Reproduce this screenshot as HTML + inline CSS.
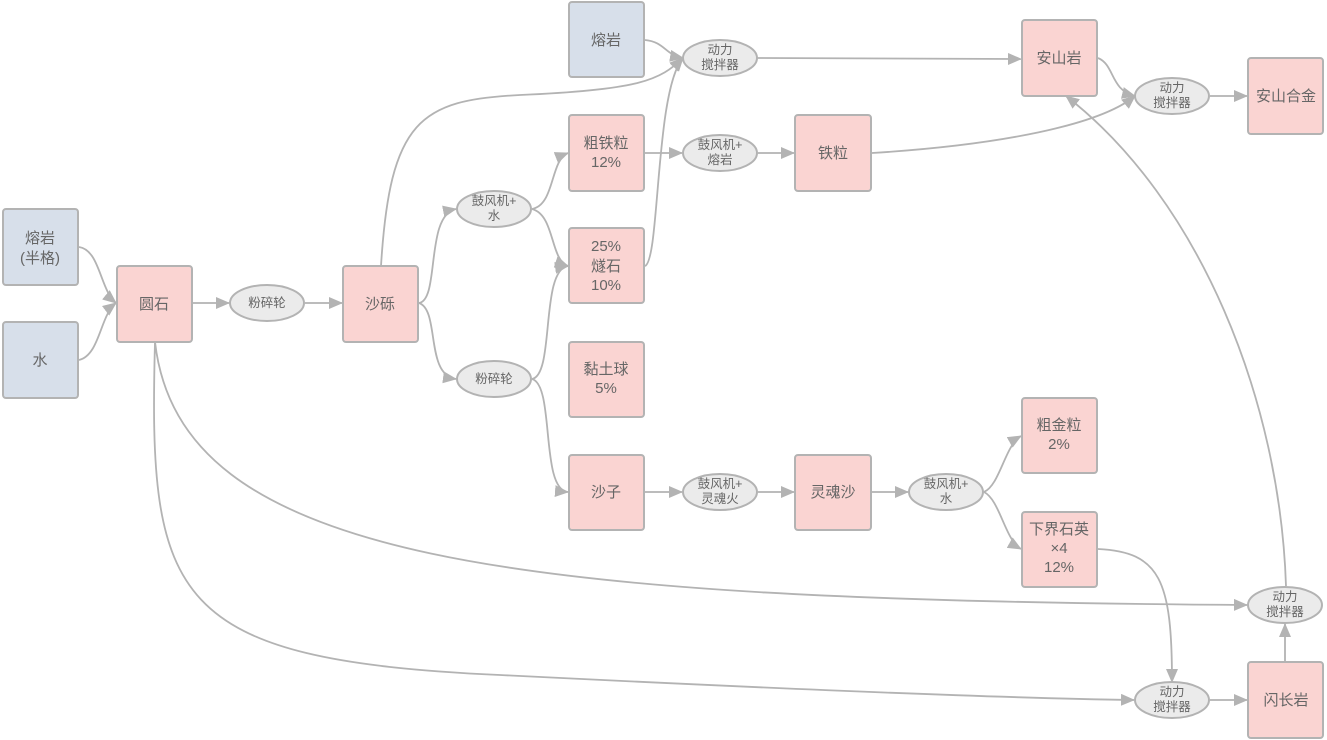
<!DOCTYPE html>
<html><head><meta charset="utf-8"><style>
html,body{margin:0;padding:0;background:#fff;}
svg{display:block;}
text{font-family:"Liberation Sans","Noto Sans CJK SC",sans-serif;fill:#666;text-anchor:middle;}
.b{font-size:15px;}
.e{font-size:12.5px;}
.bx{stroke:#b3b3b3;stroke-width:2;}
.p{fill:#fad4d2;}
.u{fill:#d7dfea;}
.el{fill:#ebebeb;stroke:#b3b3b3;stroke-width:2;}
.l{fill:none;stroke:#b3b3b3;stroke-width:1.8;marker-end:url(#a);}
</style></head><body>
<svg width="1327" height="740" viewBox="0 0 1327 740">
<defs><marker id="a" markerWidth="14" markerHeight="14" refX="13" refY="6" orient="auto" markerUnits="userSpaceOnUse"><path d="M0,0 L14,6 L0,12 z" fill="#b3b3b3"/></marker></defs>

<path class="l" d="M79,247 C100,250 100,290 116,303"/>
<path class="l" d="M79,360 C100,355 100,315 116,303"/>
<path class="l" d="M193,303 L229,303"/>
<path class="l" d="M305,303 L342,303"/>
<path class="l" d="M419,303 C440,300 425,215 456,209"/>
<path class="l" d="M419,303 C440,310 425,375 456,379"/>
<path class="l" d="M532,209 C555,205 550,160 568,153"/>
<path class="l" d="M532,209 C555,215 550,260 568,266"/>
<path class="l" d="M532,379 C555,375 540,270 568,266"/>
<path class="l" d="M532,379 C555,385 540,490 568,492"/>
<path class="l" d="M381,266 C390,120 420,100 520,95 C640,90 660,80 683,58"/>
<path class="l" d="M645,40 C665,42 665,55 683,58"/>
<path class="l" d="M645,266 C660,260 655,90 683,58"/>
<path class="l" d="M757,58 L1021,59"/>
<path class="l" d="M645,153 L682,153"/>
<path class="l" d="M758,153 L794,153"/>
<path class="l" d="M872,153 C1000,145 1100,125 1135,96"/>
<path class="l" d="M1098,58 C1115,65 1110,90 1135,96"/>
<path class="l" d="M1210,96 L1247,96"/>
<path class="l" d="M645,492 L682,492"/>
<path class="l" d="M758,492 L794,492"/>
<path class="l" d="M872,492 L908,492"/>
<path class="l" d="M984,492 C1000,485 1005,445 1021,436"/>
<path class="l" d="M984,492 C1000,500 1005,540 1021,549"/>
<path class="l" d="M1098,549 C1160,552 1172,580 1172,682"/>
<path class="l" d="M155,342 C180,560 500,600 1247,605"/>
<path class="l" d="M155,342 C148,600 170,660 500,675 C800,690 1000,698 1134,700"/>
<path class="l" d="M1210,700 L1247,700"/>
<path class="l" d="M1285,662 L1285,624"/>
<path class="l" d="M1286,586 C1280,400 1200,200 1066,96"/>

<rect class="bx u" x="3" y="209" width="75" height="76" rx="3"/>
<text class="b" x="40" y="243">熔岩</text><text class="b" x="40" y="263">(半格)</text>
<rect class="bx u" x="3" y="322" width="75" height="76" rx="3"/>
<text class="b" x="40" y="365">水</text>
<rect class="bx p" x="117" y="266" width="75" height="76" rx="3"/>
<text class="b" x="154" y="309">圆石</text>
<ellipse class="el" cx="267" cy="303" rx="37" ry="18"/><text class="e" x="267" y="307">粉碎轮</text>
<rect class="bx p" x="343" y="266" width="75" height="76" rx="3"/>
<text class="b" x="380" y="309">沙砾</text>
<ellipse class="el" cx="494" cy="209" rx="37" ry="18"/><text class="e" x="494" y="205">鼓风机+</text><text class="e" x="494" y="220">水</text>
<ellipse class="el" cx="494" cy="379" rx="37" ry="18"/><text class="e" x="494" y="383">粉碎轮</text>
<rect class="bx u" x="569" y="2" width="75" height="75" rx="3"/>
<text class="b" x="606" y="45">熔岩</text>
<ellipse class="el" cx="720" cy="58" rx="37" ry="18"/><text class="e" x="720" y="54">动力</text><text class="e" x="720" y="69">搅拌器</text>
<rect class="bx p" x="569" y="115" width="75" height="76" rx="3"/>
<text class="b" x="606" y="148">粗铁粒</text><text class="b" x="606" y="167">12%</text>
<ellipse class="el" cx="720" cy="153" rx="37" ry="18"/><text class="e" x="720" y="149">鼓风机+</text><text class="e" x="720" y="164">熔岩</text>
<rect class="bx p" x="795" y="115" width="76" height="76" rx="3"/>
<text class="b" x="833" y="158">铁粒</text>
<rect class="bx p" x="569" y="228" width="75" height="75" rx="3"/>
<text class="b" x="606" y="251">25%</text><text class="b" x="606" y="271">燧石</text><text class="b" x="606" y="290">10%</text>
<rect class="bx p" x="569" y="342" width="75" height="75" rx="3"/>
<text class="b" x="606" y="374">黏土球</text><text class="b" x="606" y="393">5%</text>
<rect class="bx p" x="569" y="455" width="75" height="75" rx="3"/>
<text class="b" x="606" y="497">沙子</text>
<ellipse class="el" cx="720" cy="492" rx="37" ry="18"/><text class="e" x="720" y="488">鼓风机+</text><text class="e" x="720" y="503">灵魂火</text>
<rect class="bx p" x="795" y="455" width="76" height="75" rx="3"/>
<text class="b" x="833" y="497">灵魂沙</text>
<ellipse class="el" cx="946" cy="492" rx="37" ry="18"/><text class="e" x="946" y="488">鼓风机+</text><text class="e" x="946" y="503">水</text>
<rect class="bx p" x="1022" y="398" width="75" height="75" rx="3"/>
<text class="b" x="1059" y="430">粗金粒</text><text class="b" x="1059" y="449">2%</text>
<rect class="bx p" x="1022" y="512" width="75" height="75" rx="3"/>
<text class="b" x="1059" y="534">下界石英</text><text class="b" x="1059" y="553">×4</text><text class="b" x="1059" y="572">12%</text>
<rect class="bx p" x="1022" y="20" width="75" height="76" rx="3"/>
<text class="b" x="1059" y="63">安山岩</text>
<ellipse class="el" cx="1172" cy="96" rx="37" ry="18"/><text class="e" x="1172" y="92">动力</text><text class="e" x="1172" y="107">搅拌器</text>
<rect class="bx p" x="1248" y="58" width="75" height="76" rx="3"/>
<text class="b" x="1286" y="101">安山合金</text>
<ellipse class="el" cx="1285" cy="605" rx="37" ry="18"/><text class="e" x="1285" y="601">动力</text><text class="e" x="1285" y="616">搅拌器</text>
<ellipse class="el" cx="1172" cy="700" rx="37" ry="18"/><text class="e" x="1172" y="696">动力</text><text class="e" x="1172" y="711">搅拌器</text>
<rect class="bx p" x="1248" y="662" width="75" height="76" rx="3"/>
<text class="b" x="1286" y="705">闪长岩</text>
</svg>
</body></html>
